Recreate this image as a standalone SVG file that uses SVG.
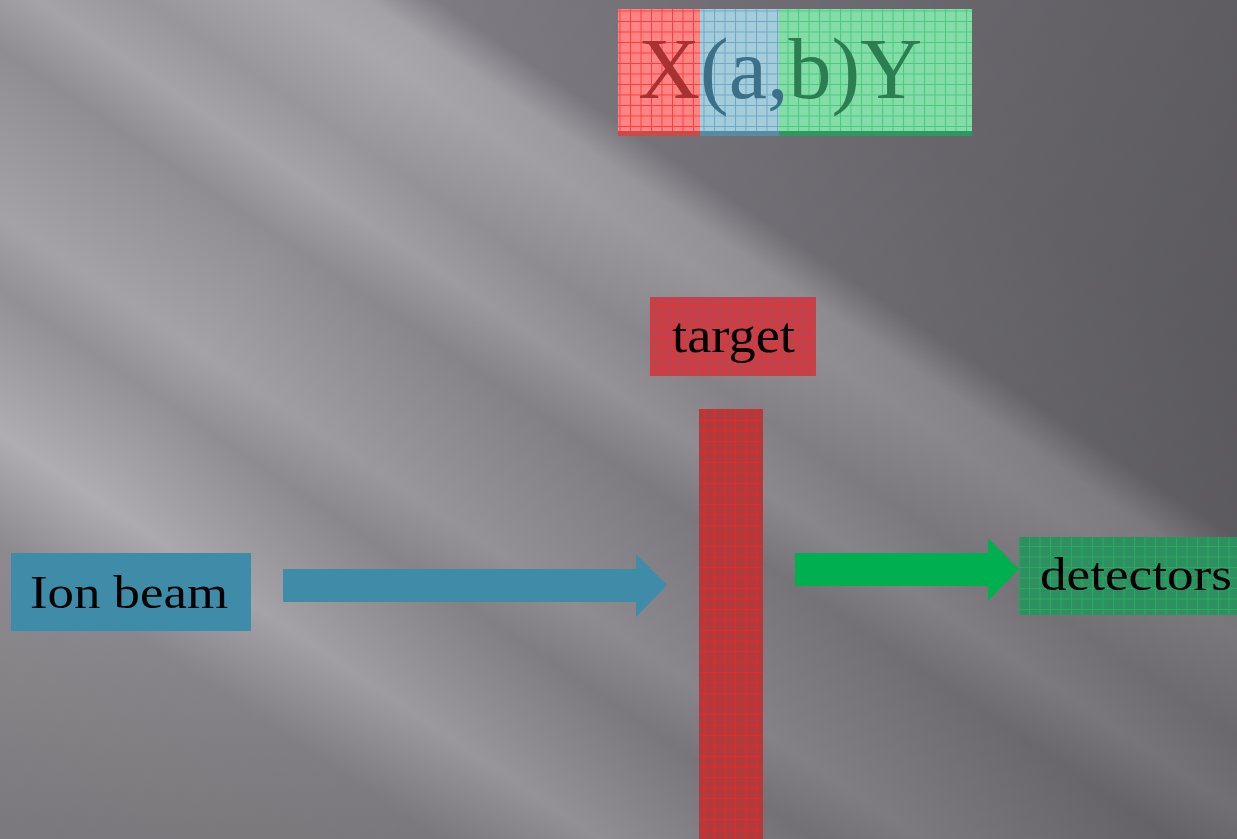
<svg xmlns="http://www.w3.org/2000/svg" width="1237" height="839" viewBox="0 0 1237 839">
<style>
.lbl{font-family:"Liberation Serif","DejaVu Serif",serif;fill:#000;}
.big{font-family:"Liberation Serif","DejaVu Serif",serif;font-size:86px;}
</style>
<defs>
<linearGradient id="bands" gradientUnits="userSpaceOnUse" x1="0" y1="-720" x2="0" y2="720">
<stop offset="0" stop-color="#737177"/>
<stop offset="0.222" stop-color="#78767c"/>
<stop offset="0.33" stop-color="#7e7c82"/>
<stop offset="0.358" stop-color="#a4a1a7"/>
<stop offset="0.385" stop-color="#a9a6ac"/>
<stop offset="0.444" stop-color="#98959b"/>
<stop offset="0.486" stop-color="#a5a2a8"/>
<stop offset="0.528" stop-color="#8f8c92"/>
<stop offset="0.625" stop-color="#a4a1a7"/>
<stop offset="0.667" stop-color="#928f95"/>
<stop offset="0.75" stop-color="#afacb2"/>
<stop offset="0.8125" stop-color="#8d8a90"/>
<stop offset="0.882" stop-color="#888589"/>
<stop offset="1" stop-color="#7d7a80"/>
</linearGradient>
<linearGradient id="shade" gradientUnits="userSpaceOnUse" x1="300" y1="200" x2="1237" y2="839">
<stop offset="0" stop-color="#000" stop-opacity="0"/>
<stop offset="1" stop-color="#000" stop-opacity="0.32"/>
</linearGradient>
<pattern id="gR" width="10.5" height="10.5" patternUnits="userSpaceOnUse">
<path d="M0 0.5H10.5M0.5 0V10.5" stroke="#ff2020" stroke-width="1" fill="none" opacity="0.7"/>
</pattern>
<pattern id="gRl" width="10.5" height="10.5" patternUnits="userSpaceOnUse">
<path d="M0 0.5H10.5M0.5 0V10.5" stroke="#ff2828" stroke-width="1" fill="none" opacity="0.6"/>
</pattern>
<pattern id="gB" width="10.5" height="10.5" patternUnits="userSpaceOnUse">
<path d="M0 0.5H10.5M0.5 0V10.5" stroke="#5a98b8" stroke-width="1" fill="none" opacity="0.7"/>
</pattern>
<pattern id="gG" width="10.5" height="10.5" patternUnits="userSpaceOnUse">
<path d="M0 0.5H10.5M0.5 0V10.5" stroke="#20c060" stroke-width="1" fill="none" opacity="0.6"/>
</pattern>
</defs>
<g transform="rotate(34)">
<rect x="-900" y="-900" width="3000" height="1800" fill="url(#bands)"/>
</g>
<rect width="1237" height="839" fill="url(#shade)"/>

<g id="reaction">
<rect x="618" y="9" width="82" height="127" fill="#ff8585"/>
<rect x="618" y="9" width="82" height="127" fill="url(#gR)"/>
<rect x="700" y="9" width="79" height="127" fill="#a4cddc"/>
<rect x="700" y="9" width="79" height="127" fill="url(#gB)"/>
<rect x="779" y="9" width="193" height="127" fill="#84dca8"/>
<rect x="779" y="9" width="193" height="127" fill="url(#gG)"/>
<rect x="618" y="131" width="82" height="5" fill="#c84a4a"/>
<rect x="700" y="131" width="79" height="5" fill="#5a8aa0"/>
<rect x="779" y="131" width="193" height="5" fill="#2e9860"/>
<text class="big" y="98"><tspan x="638" fill="#a83232">X</tspan><tspan fill="#3c7088">(a,</tspan><tspan fill="#2a7e50">b)Y</tspan></text>
</g>

<g id="target">
<rect x="650" y="297" width="166" height="79" fill="#c0424a"/>
<rect x="650" y="297" width="166" height="79" fill="url(#gRl)"/>
<text class="lbl" x="672" y="352" font-size="50" textLength="123" lengthAdjust="spacingAndGlyphs">target</text>
</g>

<g id="target-bar">
<rect x="699" y="409" width="64" height="430" fill="#b03a3c"/>
<rect x="699" y="409" width="64" height="430" fill="url(#gR)"/>
</g>

<g id="ion-beam">
<rect x="11" y="553" width="240" height="78" fill="#3e8ca8"/>
<text class="lbl" x="30" y="608" font-size="47" textLength="198" lengthAdjust="spacingAndGlyphs">Ion beam</text>
</g>

<g id="detectors">
<rect x="1019" y="537" width="218" height="78" fill="#2e9060"/>
<rect x="1019" y="537" width="218" height="78" fill="url(#gG)"/>
<text class="lbl" x="1040" y="590" font-size="47" textLength="192" lengthAdjust="spacingAndGlyphs">detectors</text>
</g>

<g id="connectors">
<polygon points="283,569 636,569 636,554 667,585 636,617 636,602 283,602" fill="#3e8ca8"/>
<polygon points="795,553 988,553 988,538 1019,569 988,601 988,586 795,586" fill="#00b050"/>
</g>
</svg>
